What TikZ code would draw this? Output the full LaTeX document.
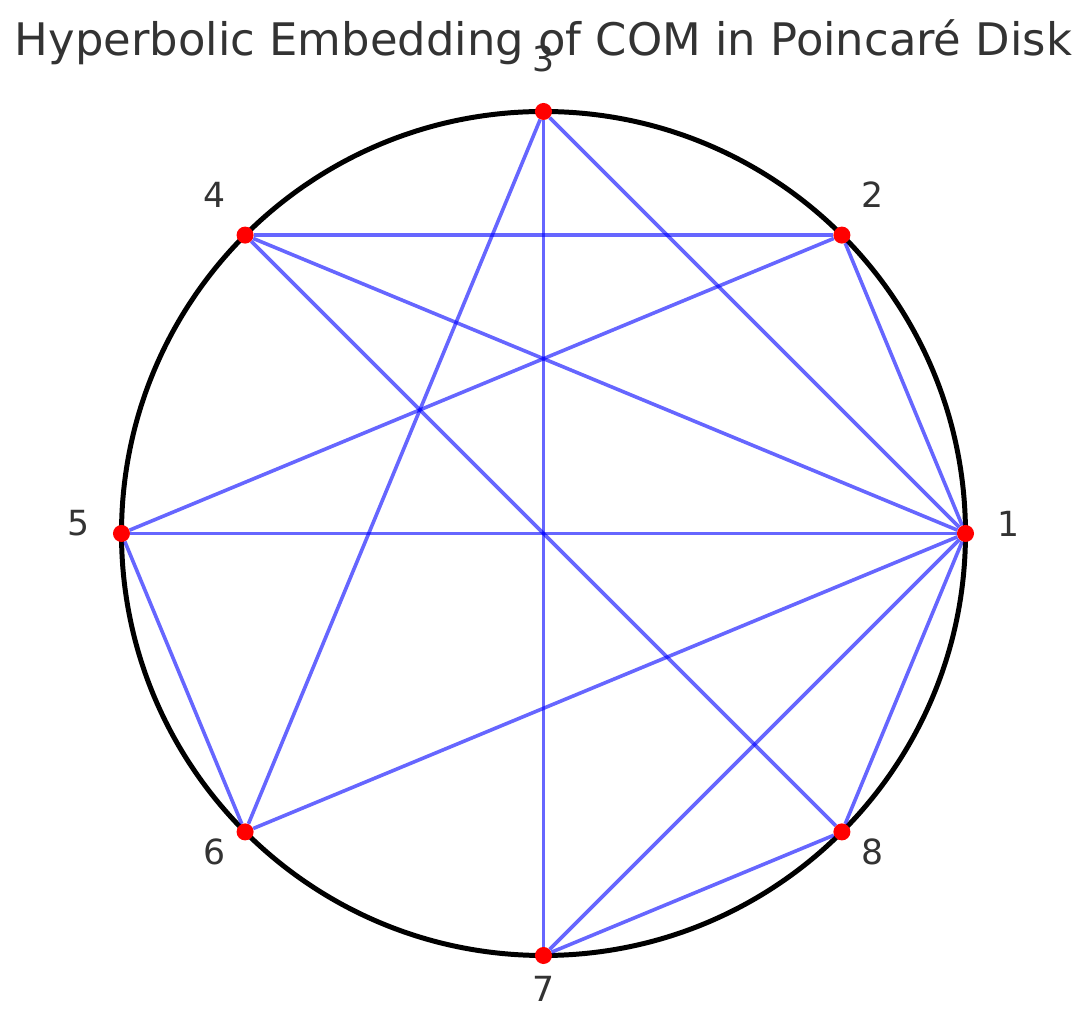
\documentclass[tikz,border=0pt]{standalone}
\usepackage{fontspec}
\setmainfont{DejaVu Sans}
\usepackage{xcolor}
\usepackage{tikz}
\usetikzlibrary{positioning}
\definecolor{textgray}{HTML}{333333}
\tikzstyle{vertex} = [circle, fill=red, inner sep=0pt, minimum size=0.17in]
\tikzstyle{vlabel} = [font=\fontsize{25}{30}\selectfont, text=textgray, inner sep=0pt, yshift=0.1in]
\tikzstyle{edge} = [draw=blue, draw opacity=0.6, line width=2.6pt]

\begin{document}
\begin{tikzpicture}[x=0.01in, y=0.01in]
    \useasboundingbox (-543.5,-489.5) rectangle (544.5,533.5);

    % Title
    \node[font=\fontsize{32.4}{39}\selectfont, text=textgray, anchor=base] (title) at (0, 477.5) {Hyperbolic Embedding of COM in Poincaré Disk};

    % Boundary of the disk
    \draw[black, line width=3.6pt] (0,0) circle (422);

    % Points on the boundary
    \node[vertex] (v1) at (0:422) {};
    \node[vertex] (v2) at (45:422) {};
    \node[vertex] (v3) at (90:422) {};
    \node[vertex] (v4) at (135:422) {};
    \node[vertex] (v5) at (180:422) {};
    \node[vertex] (v6) at (225:422) {};
    \node[vertex] (v7) at (270:422) {};
    \node[vertex] (v8) at (315:422) {};

    % Labels
    \node[vlabel] (t1) at (0:465) {1};
    \node[vlabel] (t2) at (45:465) {2};
    \node[vlabel] (t3) at (90:465) {3};
    \node[vlabel] (t4) at (135:465) {4};
    \node[vlabel] (t5) at (180:465) {5};
    \node[vlabel] (t6) at (225:465) {6};
    \node[vlabel] (t7) at (270:465) {7};
    \node[vlabel] (t8) at (315:465) {8};

    % Edges
    \draw[edge] (v1) -- (v2);
    \draw[edge] (v1) -- (v3);
    \draw[edge] (v1) -- (v4);
    \draw[edge] (v1) -- (v5);
    \draw[edge] (v1) -- (v6);
    \draw[edge] (v1) -- (v7);
    \draw[edge] (v1) -- (v8);
    \draw[edge] (v3) -- (v7);
    \draw[edge] (v3) -- (v6);
    \draw[edge] (v4) -- (v2);
    \draw[edge] (v4) -- (v8);
    \draw[edge] (v5) -- (v2);
    \draw[edge] (v5) -- (v6);
    \draw[edge] (v7) -- (v8);
\end{tikzpicture}
\end{document}
